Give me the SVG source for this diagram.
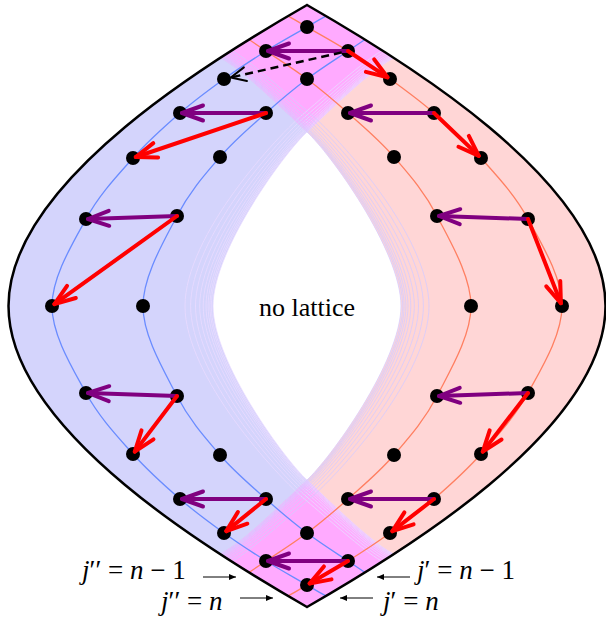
<svg xmlns="http://www.w3.org/2000/svg" xmlns:xlink="http://www.w3.org/1999/xlink" width="606" height="619" viewBox="0 0 606 619">
<style>
.dot{fill:#000}
.pu{stroke:#800080;stroke-width:4;fill:none;stroke-linecap:round;marker-end:url(#hp)}
.rd{stroke:#ff0000;stroke-width:4;fill:none;stroke-linecap:round;marker-end:url(#hr)}
.lbl{font-family:"Liberation Serif","Times New Roman",serif;font-size:26px;fill:#000}
.lb2{font-family:"Liberation Serif","Times New Roman",serif;font-size:27px;fill:#000}
.it{font-style:italic}
.la{stroke:#000;stroke-width:1;fill:none;marker-end:url(#hs)}
</style>
<defs>
<clipPath id="clipB"><path d="M307,5 C220,55 8.5,180 8.5,306 C8.5,432 220,557 307,607 C394,557 605.5,432 605.5,306 C605.5,180 394,55 307,5 Z"/></clipPath>
<marker id="hp" markerUnits="userSpaceOnUse" markerWidth="40" markerHeight="40" viewBox="-30 -20 40 40" refX="0" refY="0" orient="auto" overflow="visible"><path d="M-21,-7.5 L0,0 L-21,7.5" fill="none" stroke="#800080" stroke-width="4" stroke-linecap="round" stroke-linejoin="round"/></marker>
<marker id="hr" markerUnits="userSpaceOnUse" markerWidth="40" markerHeight="40" viewBox="-30 -20 40 40" refX="0" refY="0" orient="auto" overflow="visible"><path d="M-21,-7.5 L0,0 L-21,7.5" fill="none" stroke="#ff0000" stroke-width="4" stroke-linecap="round" stroke-linejoin="round"/></marker>
<marker id="hk" markerUnits="userSpaceOnUse" markerWidth="40" markerHeight="40" viewBox="-30 -20 40 40" refX="0" refY="0" orient="auto" overflow="visible"><path d="M-15,-7 L0,0 L-15,7" fill="none" stroke="#000" stroke-width="2" stroke-linecap="round" stroke-linejoin="round"/></marker>
<marker id="hs" markerUnits="userSpaceOnUse" markerWidth="20" markerHeight="20" viewBox="-10 -10 20 20" refX="0" refY="0" orient="auto" overflow="visible"><path d="M-7,-3 L0,0 L-7,3 Z" fill="#000"/></marker>
<path id="blueReg" d="M-10,-10 L430,-10 L420,42 L392,59 C368,72 322,118.4 307,132 C285,152 213,250 213,306 C213,362 285,460 307,480 C322,493.6 368,540 392,553 L420,570 L430,625 L-10,625 Z"/>
<path id="magTop" d="M307,132 C322,118.4 368,72 392,59 L420,42 L307,-20 L194,42 L222,59 C246,72 292,118.4 307,132 Z"/>
<path id="curveP" d="M331,13 L325,16.6 C319,19.7 316.8,21.2 307,27 C297.2,32.8 279.8,42.3 266,51 C252.2,59.7 238.3,68.7 224,79 C209.7,89.3 195.2,99.8 180,113 C164.8,126.2 148.7,140.3 133,158 C117.3,175.7 99.5,194.3 86,219 C72.5,243.7 52,277 52,306 C52,335 72.5,368.3 86,393 C99.5,417.7 117.3,436.3 133,454 C148.7,471.7 164.8,485.8 180,499 C195.2,512.2 209.7,522.7 224,533 C238.3,543.3 252.2,552.3 266,561 C279.8,569.7 297.2,579.2 307,585 C316.8,590.8 319,592.3 325,595.4 L331,599"/>
<path id="curveQ" d="M371,35.5 L365,39.5 C359.3,43.3 357.7,44.4 348,51 C338.3,57.6 320.7,68.7 307,79 C293.3,89.3 280.5,100 266,113 C251.5,126 234.8,139.8 220,157 C205.2,174.2 189.8,191.2 177,216 C164.2,240.8 143,276 143,306 C143,336 164.2,371.2 177,396 C189.8,420.8 205.2,437.8 220,455 C234.8,472.2 251.5,486 266,499 C280.5,512 293.3,522.7 307,533 C320.7,543.3 338.3,554.4 348,561 C357.7,567.6 359.3,568.7 365,572.5 L371,576.5"/>
<g id="faint" fill="none" stroke-width="0.8">
<path d="M387.2,47.2 L381.2,51.2 C363.6,61 324.8,96 307,110.8 C275.8,136.4 185,236 185,306 C185,376 275.8,475.6 307,501.2 C324.8,516 363.6,551 381.2,560.8 L387.2,564.8"/>
<path d="M389.4,48.8 L383.4,52.8 C364.5,63.2 324.2,100.5 307,115 C277.6,139.5 190.6,238.8 190.6,306 C190.6,373.2 277.6,472.5 307,497 C324.2,511.5 364.5,548.8 383.4,559.2 L389.4,563.2"/>
<path d="M391.3,50.1 L385.3,54.1 C365.3,65.1 323.8,104.4 307,118.8 C279.3,142.3 195.5,241.3 195.5,306 C195.5,370.7 279.3,469.7 307,493.2 C323.8,507.6 365.3,546.9 385.3,557.9 L391.3,561.9"/>
<path d="M392.9,51.3 L386.9,55.3 C365.9,66.8 323.3,107.8 307,121.9 C280.6,144.6 199.7,243.4 199.7,306 C199.7,368.6 280.6,467.4 307,490.1 C323.3,504.2 365.9,545.2 386.9,556.7 L392.9,560.7"/>
<path d="M394.2,52.3 L388.2,56.3 C366.5,68.2 323,110.6 307,124.6 C281.8,146.5 203.2,245.1 203.2,306 C203.2,366.9 281.8,465.5 307,487.4 C323,501.4 366.5,543.8 388.2,555.7 L394.2,559.7"/>
<path d="M395.3,53.1 L389.3,57.1 C366.9,69.3 322.7,112.8 307,126.7 C282.7,148.1 206,246.5 206,306 C206,365.5 282.7,463.9 307,485.3 C322.7,499.2 366.9,542.7 389.3,554.9 L395.3,558.9"/>
<path d="M396.1,53.6 L390.1,57.6 C367.2,70.1 322.5,114.5 307,128.3 C283.4,149.3 208.1,247.6 208.1,306 C208.1,364.4 283.4,462.7 307,483.7 C322.5,497.5 367.2,541.9 390.1,554.4 L396.1,558.4"/>
<path d="M396.8,54.1 L390.8,58.1 C367.5,70.8 322.3,115.9 307,129.6 C284,150.2 209.9,248.4 209.9,306 C209.9,363.6 284,461.8 307,482.4 C322.3,496.1 367.5,541.2 390.8,553.9 L396.8,557.9"/>
<path d="M397.3,54.5 L391.3,58.5 C367.7,71.3 322.2,117 307,130.7 C284.4,151 211.3,249.1 211.3,306 C211.3,362.9 284.4,461 307,481.3 C322.2,495 367.7,540.7 391.3,553.5 L397.3,557.5"/>
<path d="M398,55 L392,59 C368,72 322,118.4 307,132 C285,152 213,250 213,306 C213,362 285,460 307,480 C322,493.6 368,540 392,553 L398,557"/>
</g>
</defs>

<g id="regions" clip-path="url(#clipB)">
<use xlink:href="#blueReg" fill="#d4d4fc"/>
<use xlink:href="#blueReg" fill="#ffd6d6" transform="translate(614,0) scale(-1,1)"/>
<use xlink:href="#magTop" fill="#ffaaff"/>
<use xlink:href="#magTop" fill="#ffaaff" transform="translate(0,612) scale(1,-1)"/>
</g>

<g id="faint-lines" clip-path="url(#clipB)">
<use xlink:href="#faint" stroke="#eadaff"/>
<use xlink:href="#faint" stroke="#d6ccff" transform="translate(614,0) scale(-1,1)"/>
</g>

<g id="lattice-curves" clip-path="url(#clipB)" fill="none" stroke-width="1.3">
<use xlink:href="#curveP" stroke="#6a8cff"/>
<use xlink:href="#curveQ" stroke="#6a8cff"/>
<use xlink:href="#curveP" stroke="#ff7f61" transform="translate(614,0) scale(-1,1)"/>
<use xlink:href="#curveQ" stroke="#ff7f61" transform="translate(614,0) scale(-1,1)"/>
</g>

<g id="boundary">
<path d="M307,5 C220,55 8.5,180 8.5,306 C8.5,432 220,557 307,607 C394,557 605.5,432 605.5,306 C605.5,180 394,55 307,5 Z" fill="none" stroke="#000" stroke-width="2.5" stroke-linejoin="miter"/>
</g>

<g id="nodes">
<circle class="dot" cx="307" cy="27" r="7"/>
<circle class="dot" cx="266" cy="51" r="7"/><circle class="dot" cx="348" cy="51" r="7"/>
<circle class="dot" cx="224" cy="79" r="7"/><circle class="dot" cx="307" cy="79" r="7"/><circle class="dot" cx="390" cy="79" r="7"/>
<circle class="dot" cx="180" cy="113" r="7"/><circle class="dot" cx="266" cy="113" r="7"/><circle class="dot" cx="348" cy="113" r="7"/><circle class="dot" cx="434" cy="113" r="7"/>
<circle class="dot" cx="133" cy="158" r="7"/><circle class="dot" cx="220" cy="157" r="7"/><circle class="dot" cx="394" cy="157" r="7"/><circle class="dot" cx="481" cy="158" r="7"/>
<circle class="dot" cx="86" cy="219" r="7"/><circle class="dot" cx="177" cy="216" r="7"/><circle class="dot" cx="437" cy="216" r="7"/><circle class="dot" cx="528" cy="219" r="7"/>
<circle class="dot" cx="52" cy="306" r="7"/><circle class="dot" cx="143" cy="306" r="7"/><circle class="dot" cx="471" cy="306" r="7"/><circle class="dot" cx="562" cy="306" r="7"/>
<circle class="dot" cx="86" cy="393" r="7"/><circle class="dot" cx="177" cy="396" r="7"/><circle class="dot" cx="437" cy="396" r="7"/><circle class="dot" cx="528" cy="393" r="7"/>
<circle class="dot" cx="133" cy="454" r="7"/><circle class="dot" cx="220" cy="455" r="7"/><circle class="dot" cx="394" cy="455" r="7"/><circle class="dot" cx="481" cy="454" r="7"/>
<circle class="dot" cx="180" cy="499" r="7"/><circle class="dot" cx="266" cy="499" r="7"/><circle class="dot" cx="348" cy="499" r="7"/><circle class="dot" cx="434" cy="499" r="7"/>
<circle class="dot" cx="224" cy="533" r="7"/><circle class="dot" cx="307" cy="533" r="7"/><circle class="dot" cx="390" cy="533" r="7"/>
<circle class="dot" cx="266" cy="561" r="7"/><circle class="dot" cx="348" cy="561" r="7"/>
<circle class="dot" cx="307" cy="585" r="7"/>
</g>

<g id="connectors">
<path class="pu" d="M348,51 L268,51"/>
<path class="pu" d="M266,113 L182,113"/>
<path class="pu" d="M434,113 L350,113"/>
<path class="pu" d="M177,216 L88,219"/>
<path class="pu" d="M528,219 L439,216"/>
<path class="pu" d="M177,396 L88,393"/>
<path class="pu" d="M528,393 L439,396"/>
<path class="pu" d="M266,499 L182,499"/>
<path class="pu" d="M434,499 L350,499"/>
<path class="pu" d="M348,561 L268,561"/>
<path class="rd" d="M348,51 L387.5,77.3"/>
<path class="rd" d="M266,113 L135.8,157"/>
<path class="rd" d="M434,113 L478.8,155.9"/>
<path class="rd" d="M177,216 L54.4,304.2"/>
<path class="rd" d="M528,219 L560.9,303.2"/>
<path class="rd" d="M177,396 L134.8,451.6"/>
<path class="rd" d="M528,393 L482.8,451.6"/>
<path class="rd" d="M266,499 L226.3,531.1"/>
<path class="rd" d="M434,499 L392.4,531.2"/>
<path class="rd" d="M348,561 L309.6,583.5"/>
<path d="M341.7,52.4 L230.8,77.5" fill="none" stroke="#000" stroke-width="2.5" stroke-dasharray="8,5" marker-end="url(#hk)"/>
<path class="la" d="M203,577 L236,577"/>
<path class="la" d="M240,598 L273,598"/>
<path class="la" d="M410,577 L377,577"/>
<path class="la" d="M373,598 L340,598"/>
</g>

<g id="label-center"><text class="lbl" x="307" y="316" text-anchor="middle">no lattice</text></g>
<g id="label-jpp-n1"><text class="lb2" x="82" y="579"><tspan class="it">j</tspan>′′ = <tspan class="it">n</tspan> − 1</text></g>
<g id="label-jpp-n"><text class="lb2" x="161" y="610"><tspan class="it">j</tspan>′′ = <tspan class="it">n</tspan></text></g>
<g id="label-jp-n1"><text class="lb2" x="417" y="579"><tspan class="it">j</tspan>′ = <tspan class="it">n</tspan> − 1</text></g>
<g id="label-jp-n"><text class="lb2" x="383" y="610"><tspan class="it">j</tspan>′ = <tspan class="it">n</tspan></text></g>
</svg>
